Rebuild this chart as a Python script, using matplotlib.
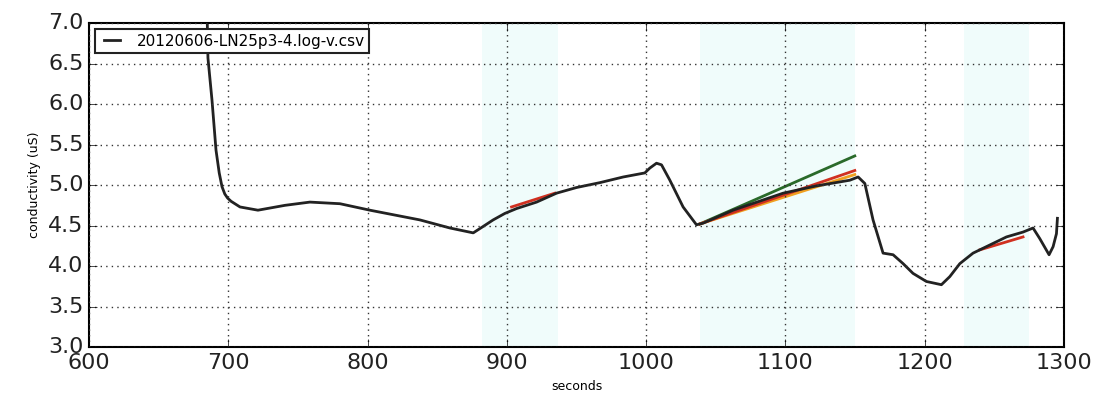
import matplotlib
matplotlib.use('Agg')
import matplotlib.pyplot as plt

# measured conductivity trace
t = [684.5, 685.4, 688.3, 691.2, 693.5, 695.5, 697.5, 699.5, 702.0, 708.4,
     721.3, 740.7, 758.6, 780.2, 801.7, 837.6, 859.2, 875.9, 883.1, 890.2,
     898.6, 907.0, 921.4, 935.7, 950.1, 966.8, 983.6, 999.1, 1002.7, 1007.5,
     1011.1, 1017.1, 1026.6, 1036.2, 1041.0, 1062.5, 1098.4, 1122.4, 1146.3, 1152.3,
     1157.1, 1163.0, 1170.2, 1177.4, 1184.6, 1191.7, 1201.3, 1212.1, 1218.1, 1225.3,
     1234.8, 1246.8, 1258.8, 1270.7, 1277.9, 1282.7, 1289.4, 1292.3, 1294.7, 1295.4]
cond = [7.4, 6.57, 6.05, 5.43, 5.15, 4.98, 4.89, 4.84, 4.80, 4.73,
        4.69, 4.75, 4.79, 4.77, 4.69, 4.57, 4.47, 4.41, 4.49, 4.57,
        4.65, 4.71, 4.79, 4.90, 4.97, 5.03, 5.10, 5.15, 5.21, 5.27,
        5.25, 5.06, 4.73, 4.51, 4.53, 4.69, 4.90, 4.99, 5.06, 5.10,
        5.02, 4.57, 4.16, 4.14, 4.03, 3.91, 3.81, 3.77, 3.87, 4.03,
        4.16, 4.26, 4.36, 4.42, 4.47, 4.34, 4.14, 4.24, 4.40, 4.59]

# highlighted windows (start, end)
windows = [(882, 937), (1039, 1150), (1228, 1275)]

# fitted lines: (x0, x1, y0, y1, colour)
fits = [
    (903.4, 934.5, 4.73, 4.90, '#d03020'),
    (1038.6, 1149.9, 4.52, 5.36, '#2a6a2a'),
    (1038.6, 1149.9, 4.52, 5.13, '#f0a020'),
    (1038.6, 1149.9, 4.52, 5.18, '#d03020'),
    (1239.6, 1270.7, 4.20, 4.36, '#d03020'),
]

plt.style.use('classic')
fig = plt.figure(figsize=(10.99, 4.05), dpi=100, facecolor='white')
ax = fig.add_axes([0.081, 0.143, 0.887, 0.800])

for a, b in windows:
    ax.axvspan(a, b, color='#e4faf8', alpha=0.55, lw=0)

for x0, x1, y0, y1, c in fits:
    ax.plot([x0, x1], [y0, y1], color=c, lw=2)

ax.plot(t, cond, color='#222222', lw=2, label='20120606-LN25p3-4.log-v.csv')

ax.set_xlim(600, 1300)
ax.set_ylim(3.0, 7.0)
ax.set_xticks(range(600, 1301, 100))
ax.set_yticks([3.0, 3.5, 4.0, 4.5, 5.0, 5.5, 6.0, 6.5, 7.0])
ax.tick_params(labelsize=16, direction='in', length=6, labelcolor='#222222')
ax.grid(True, color='#333333', linestyle=':', lw=1)
ax.set_xlabel('seconds', fontsize=9)
ax.set_ylabel('conductivity (uS)', fontsize=9)
for s in ax.spines.values():
    s.set_linewidth(1.5)

leg = ax.legend(loc='upper left', fontsize=11, fancybox=False, handlelength=1.6,
                borderpad=0.3, borderaxespad=0.4)
leg.get_frame().set_linewidth(1.5)
leg.get_frame().set_edgecolor('#222222')

fig.savefig('out.png', dpi=100, facecolor='white')
